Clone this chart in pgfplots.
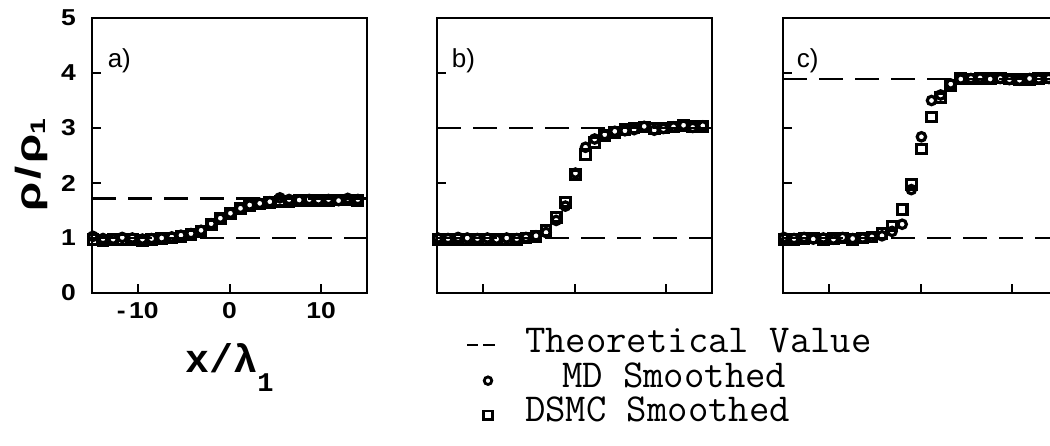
\documentclass[border=0pt]{standalone}
\usepackage{fontspec}
\setmainfont{Liberation Sans}
\newfontfamily\lmono{Liberation Mono}
\usepackage{graphicx}
\usepackage{pgfplots}
\usepackage{pgfplotstable}
\pgfplotsset{compat=1.18}

% x, MD smoothed, DSMC smoothed
\pgfplotstableread{
x md ds
-14.9 1.03 0.97
-13.8 0.99 0.96
-12.7 0.98 0.97
-11.7 1.01 0.97
-10.6 1.00 0.98
-9.5 0.98 0.96
-8.5 0.99 0.97
-7.4 1.00 0.99
-6.3 1.02 1.00
-5.3 1.05 1.03
-4.2 1.08 1.06
-3.1 1.14 1.12
-2.0 1.26 1.24
-1.0 1.36 1.35
0.1 1.45 1.45
1.2 1.54 1.54
2.2 1.60 1.59
3.3 1.63 1.62
4.4 1.66 1.65
5.5 1.73 1.67
6.5 1.70 1.67
7.6 1.69 1.68
8.7 1.70 1.68
9.7 1.69 1.68
10.8 1.70 1.68
11.9 1.68 1.69
12.9 1.72 1.69
14.0 1.70 1.68
}\dataa

\pgfplotstableread{
x md ds
-14.9 1.00 0.97
-13.8 0.99 0.97
-12.7 1.01 0.98
-11.7 1.00 0.97
-10.6 0.99 0.98
-9.5 1.00 0.97
-8.5 0.98 0.98
-7.4 1.00 0.97
-6.3 0.99 0.98
-5.3 1.01 1.00
-4.2 1.04 1.03
-3.1 1.10 1.14
-2.0 1.32 1.38
-1.0 1.58 1.65
0.1 2.18 2.15
1.2 2.65 2.52
2.2 2.80 2.74
3.3 2.88 2.86
4.4 2.94 2.92
5.5 2.95 2.97
6.5 2.97 3.00
7.6 3.03 3.02
8.7 2.96 2.99
9.7 2.99 3.00
10.8 3.02 3.02
11.9 3.05 3.04
12.9 3.01 3.03
14.0 3.04 3.03
}\datab

\pgfplotstableread{
x md ds
-14.9 1.01 0.98
-13.8 0.99 0.98
-12.7 1.01 0.99
-11.7 0.98 1.00
-10.6 1.00 0.98
-9.5 0.98 0.99
-8.5 1.01 1.00
-7.4 0.99 0.98
-6.3 1.00 1.00
-5.3 1.02 1.02
-4.2 1.04 1.08
-3.1 1.12 1.22
-2.0 1.25 1.52
-1.0 1.88 1.98
0.1 2.84 2.62
1.2 3.50 3.20
2.2 3.60 3.55
3.3 3.80 3.78
4.4 3.89 3.90
5.5 3.90 3.89
6.5 3.91 3.90
7.6 3.89 3.90
8.7 3.90 3.91
9.7 3.88 3.89
10.8 3.87 3.88
11.9 3.90 3.88
12.9 3.89 3.90
14.0 3.90 3.91
}\datac

\newcommand\tl[1]{\scalebox{1.15}[1]{\bfseries #1}}

\tikzset{plabel/.style={anchor=base west, font=\fontsize{26}{26}\selectfont, inner sep=0pt}}

\pgfplotsset{
  panel/.style={
    scale only axis, width=275pt, height=275pt,
    xmin=-15, xmax=15, ymin=0, ymax=5,
    xtick={-10,0,10}, ytick={0,1,2,3,4,5},
    tick align=inside, tick pos=left,
    major tick length=9pt,
    axis line style={line width=2.2pt},
    tick style={line width=2pt, black},
    anchor=south west,
  },
  theo/.style={black, line width=2.5pt, dash pattern=on 24pt off 12pt},
  md/.style={black, only marks, mark=o, mark size=4.2pt, mark options={line width=3.2pt}},
  dsmc/.style={black, only marks, mark=square, mark size=4.8pt, mark options={line width=3.2pt}},
  theoleg/.style={legend image code/.code={
     \path[draw=none, fill=none] (0pt,-3pt) rectangle (64pt,3pt);
     \draw[black, line width=2pt, solid] (6pt,3pt) -- (17pt,3pt) (22pt,3pt) -- (34pt,3pt);}},
  mdleg/.style={legend image code/.code={
     \path[draw=none, fill=none] (0pt,-3pt) rectangle (64pt,3pt);
     \draw[##1, mark size=3.8pt, mark options={line width=2.8pt}] plot coordinates {(27pt,2pt)};}},
  dsleg/.style={legend image code/.code={
     \path[draw=none, fill=none] (0pt,-3pt) rectangle (64pt,3pt);
     \draw[##1, mark size=4.2pt, mark options={line width=2.8pt}] plot coordinates {(27pt,2pt)};}},
}

\begin{document}
\begin{tikzpicture}
\useasboundingbox (0pt,0pt) rectangle (1050pt,445pt);

% ---- panel a ----
\begin{axis}[panel, at={(92pt,152pt)},
  xticklabels={\tl{-\hspace{3pt}10},\tl{0},\tl{10}},
  yticklabels={\tl{0},\tl{1},\tl{2},\tl{3},\tl{4},\tl{5}},
  xticklabel style={font=\fontsize{23}{23}\selectfont, inner sep=0pt, anchor=north, yshift=-9pt},
  yticklabel style={font=\fontsize{23}{23}\selectfont, inner sep=0pt, anchor=east, xshift=-16pt},
  xlabel={\lmono\bfseries\fontsize{40}{40}\selectfont x/λ\raisebox{-19pt}{\fontsize{27}{27}\selectfont 1}},
  xlabel style={at={(0.5,-0.29)}, anchor=base, inner sep=0pt},
  after end axis/.code={
    \node[rotate=90, anchor=center, inner sep=0pt] at (rel axis cs:-0.22,0.465)
      {\scalebox{1.35}[1]{\bfseries\fontsize{35}{35}\selectfont ρ\hspace{2pt}/\hspace{2pt}ρ\raisebox{-5pt}{\fontsize{21}{21}\selectfont 1}}};
  },
]
\addplot[theo] coordinates {(-15,1) (15,1)};
\addplot[theo] coordinates {(-15,1.714) (15,1.714)};
\addplot[md] table[x=x, y=md] {\dataa};
\addplot[dsmc] table[x=x, y=ds] {\dataa};
\node[plabel] at (axis cs:-13.3,4.1) {a)};
\end{axis}

% ---- panel b ----
\begin{axis}[panel, at={(437pt,152pt)},
  xticklabels={}, yticklabels={},
  legend cell align=left,
  legend style={at={(0.0873,-0.138)}, anchor=north west, draw=none, fill=none,
    inner sep=0pt, outer sep=0pt, row sep=0pt, column sep=0pt,
    font=\ttfamily\fontsize{39.6}{40}\selectfont,
    nodes={inner sep=0pt, text height=22pt, text depth=12.5pt}},
]
\addplot[theo, theoleg] coordinates {(-15,1) (15,1)};
\addlegendentry{Theoretical Value}
\addplot[theo, forget plot] coordinates {(-15,3.0) (15,3.0)};
\addplot[md, mdleg] table[x=x, y=md] {\datab};
\addlegendentry{\hspace{37pt}MD Smoothed}
\addplot[dsmc, dsleg] table[x=x, y=ds] {\datab};
\addlegendentry{DSMC Smoothed}
\node[plabel] at (axis cs:-13.4,4.1) {b)};
\end{axis}

% ---- panel c ----
\begin{axis}[panel, at={(783pt,152pt)},
  xticklabels={}, yticklabels={},
]
\addplot[theo] coordinates {(-15,1) (15,1)};
\addplot[theo] coordinates {(-15,3.89) (15,3.89)};
\addplot[md] table[x=x, y=md] {\datac};
\addplot[dsmc] table[x=x, y=ds] {\datac};
\node[plabel] at (axis cs:-13.5,4.1) {c)};
\end{axis}
\end{tikzpicture}
\end{document}
